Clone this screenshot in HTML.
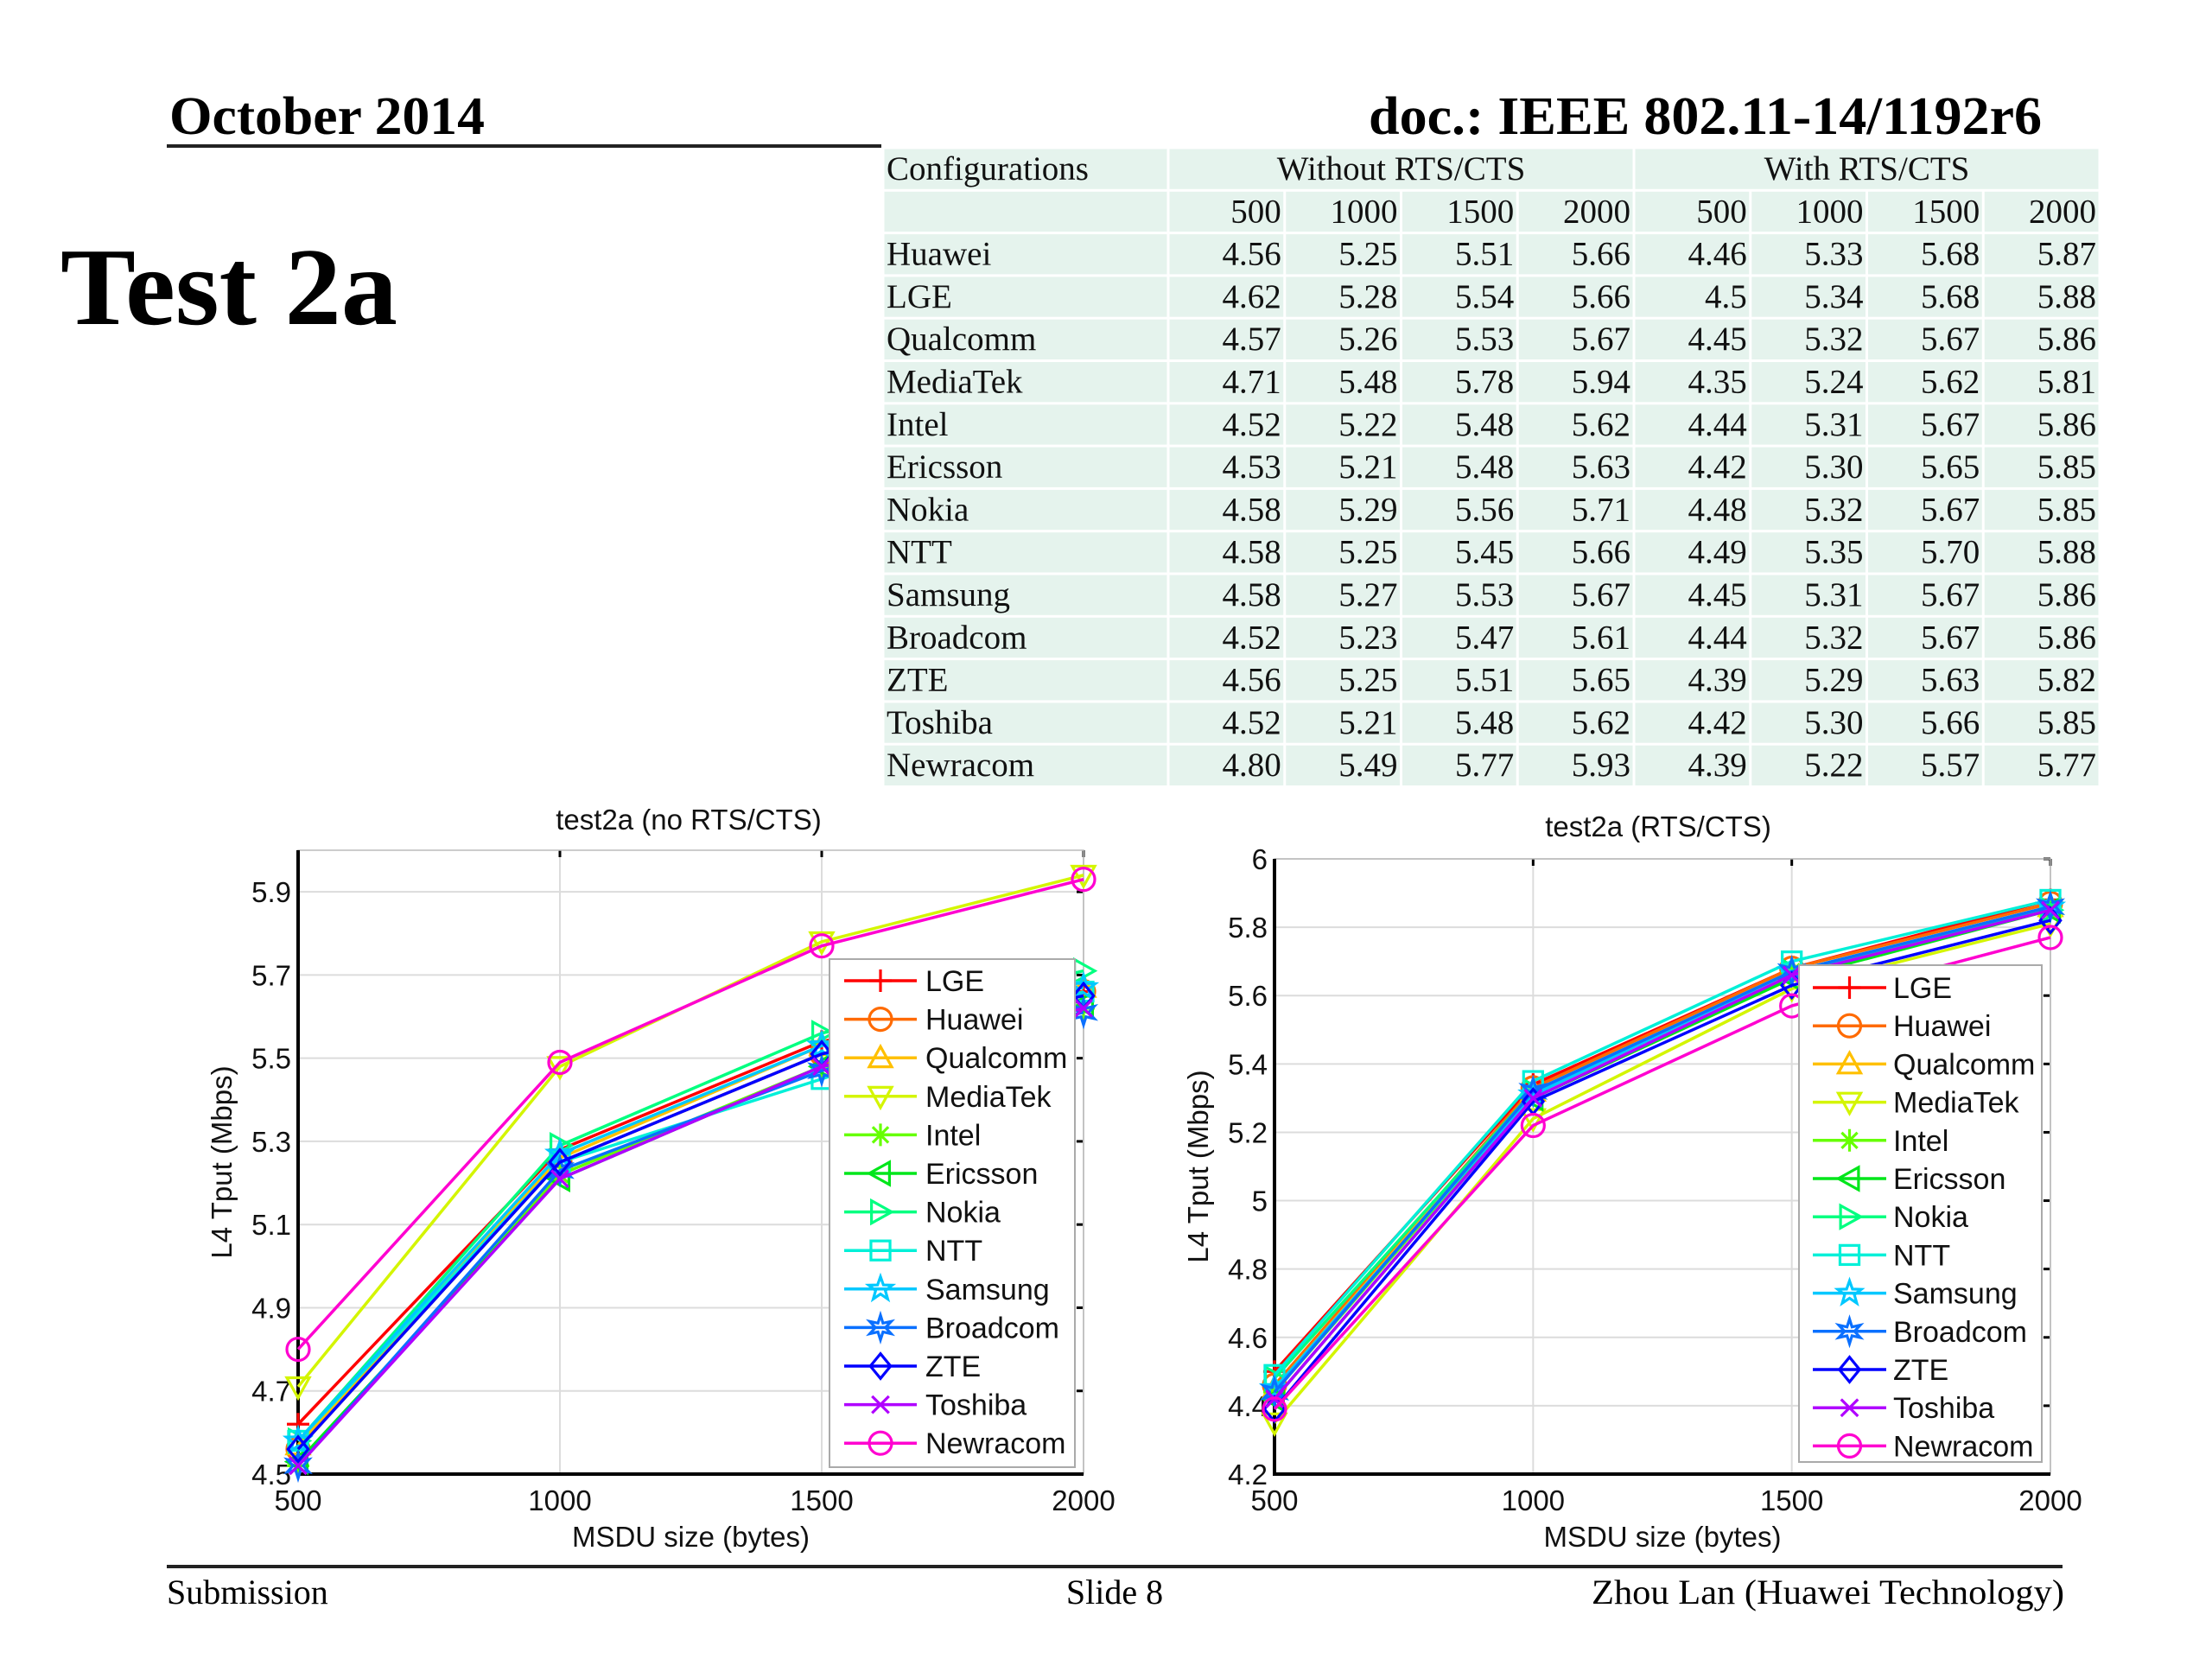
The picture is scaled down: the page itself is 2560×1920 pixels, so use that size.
<!DOCTYPE html>
<html><head><meta charset="utf-8"><title>Test 2a</title>
<style>
html,body{margin:0;padding:0;background:#fff;}
svg{display:block;}
.serif{font-family:"Liberation Serif",serif;}
.sans{font-family:"Liberation Sans",sans-serif;}
</style></head>
<body>
<svg id="slide" width="2560" height="1920" viewBox="0 0 2560 1920" xmlns="http://www.w3.org/2000/svg">
  <rect width="2560" height="1920" fill="#fff"/>
  <text class="serif" x="196" y="155" font-size="62" font-weight="bold" textLength="365" lengthAdjust="spacingAndGlyphs">October 2014</text>
  <text class="serif" x="2363" y="155" font-size="62" font-weight="bold" text-anchor="end" textLength="779" lengthAdjust="spacingAndGlyphs">doc.: IEEE 802.11-14/1192r6</text>
  <line x1="193" y1="169" x2="1020" y2="169" stroke="#222" stroke-width="4"/>
  <text class="serif" x="70" y="375" font-size="128" font-weight="bold" textLength="390" lengthAdjust="spacingAndGlyphs">Test 2a</text>
  <g id="table"></g>
  <g id="chart1"></g>
  <g id="chart2"></g>
  <line x1="193" y1="1813" x2="2387" y2="1813" stroke="#222" stroke-width="4"/>
  <text class="serif" x="193" y="1856" font-size="40">Submission</text>
  <text class="serif" x="1290" y="1856" font-size="40" text-anchor="middle">Slide 8</text>
  <text class="serif" x="2389" y="1856" font-size="40" text-anchor="end" textLength="547" lengthAdjust="spacingAndGlyphs">Zhou Lan (Huawei Technology)</text>
</svg>
<script>
const NS = "http://www.w3.org/2000/svg";
const tableCompanies = ["Huawei","LGE","Qualcomm","MediaTek","Intel","Ericsson","Nokia","NTT","Samsung","Broadcom","ZTE","Toshiba","Newracom"];
const tableNoRts = [
 ["4.56","5.25","5.51","5.66"],["4.62","5.28","5.54","5.66"],["4.57","5.26","5.53","5.67"],["4.71","5.48","5.78","5.94"],
 ["4.52","5.22","5.48","5.62"],["4.53","5.21","5.48","5.63"],["4.58","5.29","5.56","5.71"],["4.58","5.25","5.45","5.66"],
 ["4.58","5.27","5.53","5.67"],["4.52","5.23","5.47","5.61"],["4.56","5.25","5.51","5.65"],["4.52","5.21","5.48","5.62"],["4.80","5.49","5.77","5.93"]];
const tableRts = [
 ["4.46","5.33","5.68","5.87"],["4.5","5.34","5.68","5.88"],["4.45","5.32","5.67","5.86"],["4.35","5.24","5.62","5.81"],
 ["4.44","5.31","5.67","5.86"],["4.42","5.30","5.65","5.85"],["4.48","5.32","5.67","5.85"],["4.49","5.35","5.70","5.88"],
 ["4.45","5.31","5.67","5.86"],["4.44","5.32","5.67","5.86"],["4.39","5.29","5.63","5.82"],["4.42","5.30","5.66","5.85"],["4.39","5.22","5.57","5.77"]];
const msduSizes = [500,1000,1500,2000];
const legendNames = ["LGE","Huawei","Qualcomm","MediaTek","Intel","Ericsson","Nokia","NTT","Samsung","Broadcom","ZTE","Toshiba","Newracom"];
const seriesColors = ["#ff0000","#ff6a00","#ffc000","#d4f500","#66ff00","#00e61a","#00ff80","#00f0d8","#00c8ff","#0a70ff","#0000ff","#b000ff","#ff00d0"];
const seriesMarkers = ["plus","circle","tri-up","tri-down","asterisk","tri-left","tri-right","square","star5","star6","diamond","cross","circle"];
const noRtsLGE=[4.62,5.28,5.54,5.66], noRtsHuawei=[4.56,5.25,5.51,5.66], noRtsQualcomm=[4.57,5.26,5.53,5.67], noRtsMediaTek=[4.71,5.48,5.78,5.94],
      noRtsIntel=[4.52,5.22,5.48,5.62], noRtsEricsson=[4.53,5.21,5.48,5.63], noRtsNokia=[4.58,5.29,5.56,5.71], noRtsNTT=[4.58,5.25,5.45,5.66],
      noRtsSamsung=[4.58,5.27,5.53,5.67], noRtsBroadcom=[4.52,5.23,5.47,5.61], noRtsZTE=[4.56,5.25,5.51,5.65], noRtsToshiba=[4.52,5.21,5.48,5.62], noRtsNewracom=[4.80,5.49,5.77,5.93];
const rtsLGE=[4.5,5.34,5.68,5.88], rtsHuawei=[4.46,5.33,5.68,5.87], rtsQualcomm=[4.45,5.32,5.67,5.86], rtsMediaTek=[4.35,5.24,5.62,5.81],
      rtsIntel=[4.44,5.31,5.67,5.86], rtsEricsson=[4.42,5.30,5.65,5.85], rtsNokia=[4.48,5.32,5.67,5.85], rtsNTT=[4.49,5.35,5.70,5.88],
      rtsSamsung=[4.45,5.31,5.67,5.86], rtsBroadcom=[4.44,5.32,5.67,5.86], rtsZTE=[4.39,5.29,5.63,5.82], rtsToshiba=[4.42,5.30,5.66,5.85], rtsNewracom=[4.39,5.22,5.57,5.77];
const noRtsSeries=[noRtsLGE,noRtsHuawei,noRtsQualcomm,noRtsMediaTek,noRtsIntel,noRtsEricsson,noRtsNokia,noRtsNTT,noRtsSamsung,noRtsBroadcom,noRtsZTE,noRtsToshiba,noRtsNewracom];
const rtsSeries=[rtsLGE,rtsHuawei,rtsQualcomm,rtsMediaTek,rtsIntel,rtsEricsson,rtsNokia,rtsNTT,rtsSamsung,rtsBroadcom,rtsZTE,rtsToshiba,rtsNewracom];
const noRtsYTicks=[4.5,4.7,4.9,5.1,5.3,5.5,5.7,5.9];
const noRtsYTickLabels=["4.5","4.7","4.9","5.1","5.3","5.5","5.7","5.9"];
const rtsYTicks=[4.2,4.4,4.6,4.8,5,5.2,5.4,5.6,5.8,6];
const rtsYTickLabels=["4.2","4.4","4.6","4.8","5","5.2","5.4","5.6","5.8","6"];
const xTickLabels=["500","1000","1500","2000"];

function mk(tag, attrs, parent){
  const e=document.createElementNS(NS,tag);
  for(const k in attrs) e.setAttribute(k,attrs[k]);
  if(parent) parent.appendChild(e);
  return e;
}

(function(){
  const g=document.getElementById('table');
  const x0=1022, labW=330, colW=134.75, y0=171, rh=49.3, gap=3;
  const fill="#e5f3ed";
  function cell(x,y,w,name){const r=mk('rect',{x:x+gap/2,y:y+gap/2,width:w-gap,height:rh-gap,fill:fill},g);
    
    }
  function txt(x,y,s,anchor,name){const t=mk('text',{x:x,y:y,'font-size':39,'text-anchor':anchor,'class':'serif',fill:'#111'},g);t.textContent=s;
    
    }
  cell(x0,y0,labW,'table-header-cell');
  cell(x0+labW,y0,colW*4,'table-header-cell');
  cell(x0+labW+colW*4,y0,colW*4,'table-header-cell');
  txt(x0+4,y0+37,"Configurations","start",'table-header-configurations');
  txt(x0+labW+colW*2,y0+37,"Without RTS/CTS","middle",'table-header-without-rts');
  txt(x0+labW+colW*6,y0+37,"With RTS/CTS","middle",'table-header-with-rts');
  const y1=y0+rh;
  cell(x0,y1,labW,'table-cell');
  for(let c=0;c<8;c++){cell(x0+labW+c*colW,y1,colW,'table-cell');txt(x0+labW+(c+1)*colW-4,y1+37,xTickLabels[c%4],"end",'table-size-header');}
  for(let r=0;r<tableCompanies.length;r++){
    const y=y0+rh*(r+2);
    cell(x0,y,labW,'table-cell');
    txt(x0+4,y+37,tableCompanies[r],"start",'table-row-label');
    const vals=tableNoRts[r].concat(tableRts[r]);
    for(let c=0;c<8;c++){cell(x0+labW+c*colW,y,colW,'table-cell');txt(x0+labW+(c+1)*colW-4,y+37,vals[c],"end",'table-value');}
  }
})();

function marker(g,type,cx,cy,col,s){
  const st={stroke:col,'stroke-width':3.2,fill:'none'};
  let e;
  const P=(pts)=>pts.map(p=>p[0].toFixed(1)+','+p[1].toFixed(1)).join(' ');
  switch(type){
    case 'circle': e=mk('circle',Object.assign({cx:cx,cy:cy,r:s},st),g);break;
    case 'square': e=mk('rect',Object.assign({x:cx-s*0.85,y:cy-s*0.85,width:s*1.7,height:s*1.7},st),g);break;
    case 'diamond': e=mk('polygon',Object.assign({points:P([[cx,cy-s*1.1],[cx+s*0.9,cy],[cx,cy+s*1.1],[cx-s*0.9,cy]])},st),g);break;
    case 'tri-up': e=mk('polygon',Object.assign({points:P([[cx,cy-s],[cx+s,cy+s*0.8],[cx-s,cy+s*0.8]])},st),g);break;
    case 'tri-down': e=mk('polygon',Object.assign({points:P([[cx,cy+s],[cx+s,cy-s*0.8],[cx-s,cy-s*0.8]])},st),g);break;
    case 'tri-left': e=mk('polygon',Object.assign({points:P([[cx-s,cy],[cx+s*0.8,cy-s],[cx+s*0.8,cy+s]])},st),g);break;
    case 'tri-right': e=mk('polygon',Object.assign({points:P([[cx+s,cy],[cx-s*0.8,cy-s],[cx-s*0.8,cy+s]])},st),g);break;
    case 'plus': e=mk('path',Object.assign({d:`M${cx-s} ${cy}H${cx+s}M${cx} ${cy-s}V${cy+s}`},st),g);break;
    case 'cross': e=mk('path',Object.assign({d:`M${cx-s*0.75} ${cy-s*0.75}L${cx+s*0.75} ${cy+s*0.75}M${cx-s*0.75} ${cy+s*0.75}L${cx+s*0.75} ${cy-s*0.75}`},st),g);break;
    case 'asterisk': e=mk('path',Object.assign({d:`M${cx-s} ${cy}H${cx+s}M${cx} ${cy-s}V${cy+s}M${cx-s*0.7} ${cy-s*0.7}L${cx+s*0.7} ${cy+s*0.7}M${cx-s*0.7} ${cy+s*0.7}L${cx+s*0.7} ${cy-s*0.7}`},st),g);break;
    case 'star5': case 'star6': {
      const n=type==='star5'?5:6, pts=[];
      for(let i=0;i<2*n;i++){const a=-Math.PI/2+i*Math.PI/n;const rr=i%2?s*0.45:s*1.1;pts.push([cx+rr*Math.cos(a),cy+rr*Math.sin(a)]);}
      e=mk('polygon',Object.assign({points:P(pts)},st),g);break;}
  }
  return e;
}

function drawChart(id,opt){
  const g=document.getElementById(id);
  const {L,R,T,B,ymin,ymax,yTicks,yTickLabels,series,title,titleX,titleY,ylabX,leg}=opt;
  const xs=v=>L+(v-msduSizes[0])/(msduSizes[msduSizes.length-1]-msduSizes[0])*(R-L);
  const ys=v=>B-(v-ymin)/(ymax-ymin)*(B-T);
  yTicks.forEach((t,i)=>{
    const l=mk('line',{x1:L,x2:R,y1:ys(t),y2:ys(t),stroke:'#dcdcdc','stroke-width':2},g);
    
    
    const tk=mk('line',{x1:R-8,x2:R,y1:ys(t),y2:ys(t),stroke:'#000','stroke-width':3},g);
    
    
    const tx=mk('text',{x:L-8,y:ys(t)+12,'font-size':33,'text-anchor':'end','class':'sans',fill:'#111'},g);
    tx.textContent=yTickLabels[i];
    
    
  });
  msduSizes.forEach((v,i)=>{
    const l=mk('line',{x1:xs(v),x2:xs(v),y1:T,y2:B,stroke:'#dcdcdc','stroke-width':2},g);
    
    
    const tk=mk('line',{x1:xs(v),x2:xs(v),y1:T,y2:T+8,stroke:'#000','stroke-width':3},g);
    
    
    const tx=mk('text',{x:xs(v),y:B+42,'font-size':33,'text-anchor':'middle','class':'sans',fill:'#111'},g);
    tx.textContent=xTickLabels[i];
    
    
  });
  const box=mk('rect',{x:L,y:T,width:R-L,height:B-T,fill:'none',stroke:'#bbb','stroke-width':1.5},g);
  
  
  const ax=mk('path',{d:`M${L} ${T}V${B}H${R}`,fill:'none',stroke:'#000','stroke-width':4},g);
  
  
  series.forEach((vals,si)=>{
    const sg=mk('g',{},g);
    
    
    const pl=mk('polyline',{points:vals.map((v,i)=>xs(msduSizes[i])+','+ys(v)).join(' '),fill:'none',stroke:seriesColors[si],'stroke-width':3.5},sg);
    
    
    vals.forEach((v,i)=>{
      const m=marker(sg,seriesMarkers[si],xs(msduSizes[i]),ys(v),seriesColors[si],13);
      
      
    });
  });
  const lg=mk('g',{},g);
  
  
  const lb=mk('rect',{x:leg.x,y:leg.y,width:leg.w,height:leg.h,fill:'#fff',stroke:'#aaa','stroke-width':2},lg);
  
  
  legendNames.forEach((n,i)=>{
    const y=leg.row0+i*leg.step;
    const eg=mk('g',{},lg);
    
    
    mk('line',{x1:leg.lx1,x2:leg.lx2,y1:y,y2:y,stroke:seriesColors[i],'stroke-width':3.5},eg);
    marker(eg,seriesMarkers[i],(leg.lx1+leg.lx2)/2,y,seriesColors[i],13);
    const t=mk('text',{x:leg.tx,y:y+12,'font-size':34,'class':'sans',fill:'#111'},eg);
    t.textContent=n;
  });
  const tt=mk('text',{x:titleX,y:titleY,'font-size':33,'text-anchor':'middle','class':'sans',fill:'#111'},g);
  tt.textContent=title;
  
  
  const xl=mk('text',{x:(L+R)/2,y:B+84,'font-size':33,'text-anchor':'middle','class':'sans',fill:'#111'},g);
  xl.textContent="MSDU size (bytes)";
  
  
  const yl=mk('text',{x:0,y:0,'font-size':33,'text-anchor':'middle','class':'sans',fill:'#111',transform:`translate(${ylabX},${(T+B)/2}) rotate(-90)`},g);
  yl.textContent="L4 Tput (Mbps)";
  
  
}

drawChart('chart1',{L:345,R:1254,T:984,B:1706,ymin:4.5,ymax:6.0,yTicks:noRtsYTicks,yTickLabels:noRtsYTickLabels,series:noRtsSeries,
  title:"test2a (no RTS/CTS)",titleX:797,titleY:960,ylabX:268,
  leg:{x:960,y:1110,w:284,h:588,row0:1135,step:44.6,lx1:977,lx2:1061,tx:1071}});
drawChart('chart2',{L:1475,R:2373,T:994,B:1706,ymin:4.2,ymax:6.0,yTicks:rtsYTicks,yTickLabels:rtsYTickLabels,series:rtsSeries,
  title:"test2a (RTS/CTS)",titleX:1919,titleY:968,ylabX:1398,
  leg:{x:2082,y:1117,w:281,h:575,row0:1143,step:44.2,lx1:2098,lx2:2183,tx:2191}});
</script>
</body></html>
